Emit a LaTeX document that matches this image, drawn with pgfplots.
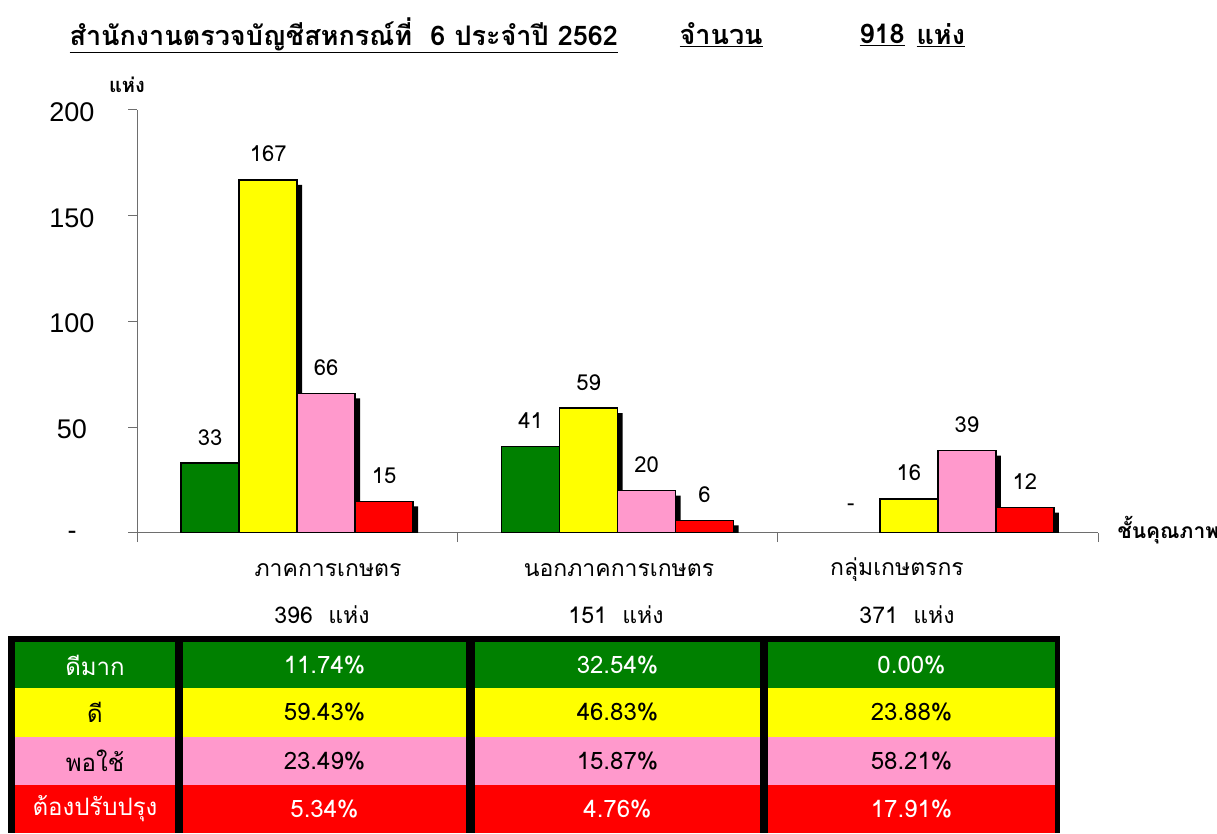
\documentclass[border=0pt]{standalone}
\usepackage{pgfplots}
\pgfplotsset{compat=1.18}
\usepackage{fontspec}
\setmainfont{Liberation Sans}
\newfontfamily\thai[Script=Thai]{Loma}
\definecolor{cgreen}{RGB}{0,128,0}
\definecolor{cyellow}{RGB}{255,255,0}
\definecolor{cpink}{RGB}{255,153,204}
\definecolor{cred}{RGB}{255,0,0}
\definecolor{axgray}{RGB}{110,110,110}
\begin{document}
\begin{tikzpicture}[x=1pt,y=1pt]
\useasboundingbox (0,0) rectangle (1217,833);
\begin{axis}[
  at={(137pt,300pt)}, anchor=south west,
  scale only axis, width=961pt, height=423pt,
  xmin=-0.5, xmax=2.5, ymin=0, ymax=200,
  ybar, bar width=58pt,
  axis x line*=bottom, axis y line*=left,
  axis line style={axgray, line width=1pt, -},
  xtick={-0.5,0.5,1.5,2.5}, xticklabels={},
  ytick={0,50,100,150,200}, yticklabels={-,50,100,150,200},
  tick align=outside, major tick length=9pt,
  tick style={axgray, line width=1pt},
  /pgf/number format/assume math mode=true,
  yticklabel style={font=\fontsize{27}{30}\selectfont, anchor=center, xshift=-56pt, yshift=-2pt},
  nodes near coords style={font=\thai\fontsize{22}{25}\selectfont, anchor=center, yshift=26pt, text=black},
  clip=true,
]
% green
\addplot[bar shift=-82pt, fill=black, draw=none, yshift=-5pt] coordinates {(0,33) (1,41)};
\addplot[bar shift=-87pt, fill=cgreen, draw=black, line width=1.5pt, nodes near coords] coordinates {(0,33) (1,41)};
\addplot[bar shift=-87pt, draw=none, fill=none, nodes near coords={-}] coordinates {(2,0)};
% yellow
\addplot[bar shift=-24pt, fill=black, draw=none, yshift=-5pt] coordinates {(0,167) (1,59) (2,16)};
\addplot[bar shift=-29pt, fill=cyellow, draw=black, line width=1.5pt, nodes near coords] coordinates {(0,167) (1,59) (2,16)};
% pink
\addplot[bar shift=34pt, fill=black, draw=none, yshift=-5pt] coordinates {(0,66) (1,20) (2,39)};
\addplot[bar shift=29pt, fill=cpink, draw=black, line width=1.5pt, nodes near coords] coordinates {(0,66) (1,20) (2,39)};
% red
\addplot[bar shift=92pt, fill=black, draw=none, yshift=-5pt] coordinates {(0,15) (1,6) (2,12)};
\addplot[bar shift=87pt, fill=cred, draw=black, line width=1.5pt, nodes near coords] coordinates {(0,15) (1,6) (2,12)};
\end{axis}
% title
\begin{scope}[every node/.style={anchor=west, font=\thai\bfseries\fontsize{27}{30}\selectfont}]
\node at (66,798) {\underline{สำนักงานตรวจบัญชีสหกรณ์ที่~~6 ประจำปี 2562}};
\node at (676,798) {\underline{จำนวน}};
\node at (856,798) {\underline{918}};
\node at (913,798) {\underline{แห่ง}};
\end{scope}
% axis titles
\node[font=\thai\bfseries\fontsize{20}{22}\selectfont] at (127,748) {แห่ง};
\node[anchor=west, font=\thai\bfseries\fontsize{21}{24}\selectfont] at (1114,303) {ชั้นคุณภาพ};
% category labels
\begin{scope}[every node/.style={font=\thai\fontsize{23}{26}\selectfont}]
\node at (328,263) {ภาคการเกษตร};
\node at (619,263) {นอกภาคการเกษตร};
\node at (897,263) {กลุ่มเกษตรกร};
\node at (322,218) {396~~แห่ง};
\node at (616,218) {151~~แห่ง};
\node at (907,218) {371~~แห่ง};
\end{scope}
% table
\fill[black] (8,0) rectangle (1060,197);
\foreach \ya/\yb/\col in {145/191/cgreen, 96/145/cyellow, 48/96/cpink, 0/48/cred}{
  \foreach \xa/\xb in {15/175, 183/466, 475/760, 768/1055}{
    \fill[\col] (\xa,\ya) rectangle (\xb,\yb);
  }
}
\begin{scope}[every node/.style={font=\thai\fontsize{24}{27}\selectfont}]
\node[text=white] at (95,168) {ดีมาก};
\node[text=white] at (324.5,168) {11.74\%};
\node[text=white] at (617.5,168) {32.54\%};
\node[text=white] at (911.5,168) {0.00\%};
\node[text=black] at (95,120.5) {ดี};
\node[text=black] at (324.5,120.5) {59.43\%};
\node[text=black] at (617.5,120.5) {46.83\%};
\node[text=black] at (911.5,120.5) {23.88\%};
\node[text=black] at (95,72) {พอใช้};
\node[text=black] at (324.5,72) {23.49\%};
\node[text=black] at (617.5,72) {15.87\%};
\node[text=black] at (911.5,72) {58.21\%};
\node[text=white] at (95,24) {ต้องปรับปรุง};
\node[text=white] at (324.5,24) {5.34\%};
\node[text=white] at (617.5,24) {4.76\%};
\node[text=white] at (911.5,24) {17.91\%};
\end{scope}
\end{tikzpicture}
\end{document}
